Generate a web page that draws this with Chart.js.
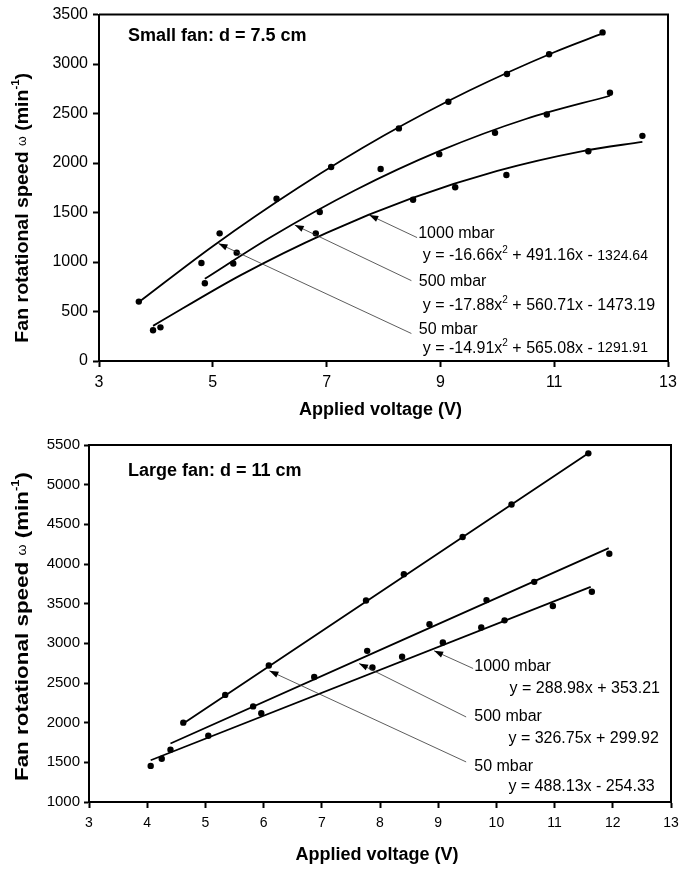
<!DOCTYPE html>
<html lang="en">
  <head>
    <meta charset="UTF-8" />
    <title>Fan rotational speed</title>
    <script src="https://cdn.jsdelivr.net/npm/chart.js"></script>
    <style>
      html, body { margin: 0; padding: 0; background: #fff; }
      .panel { position: absolute; left: 0; width: 698px; }
      #topPanel { top: 0; height: 430px; }
      #bottomPanel { top: 430px; height: 439px; }
    </style>
  </head>
  <body>
    <div class="panel" id="topPanel"><canvas id="smallFan"></canvas></div>
    <div class="panel" id="bottomPanel"><canvas id="largeFan"></canvas></div>
    <script>
      // ---- small fan (d = 7.5 cm) ----
      const smallXTicks = [3, 5, 7, 9, 11, 13];
      const smallYTicks = [0, 500, 1000, 1500, 2000, 2500, 3000, 3500];

      const smallV50 = [3.70, 4.80, 5.12, 6.12, 7.08, 8.27, 9.14, 10.17, 10.91, 11.85];
      const smallW50 = [600, 990, 1290, 1640, 1960, 2350, 2620, 2900, 3100, 3320];
      const smallV500 = [4.86, 5.36, 5.42, 6.88, 7.95, 8.98, 9.96, 10.87, 11.98];
      const smallW500 = [785, 985, 1095, 1505, 1940, 2090, 2305, 2490, 2710];
      const smallV1000 = [3.95, 4.08, 6.81, 8.52, 9.26, 10.16, 11.60, 12.55];
      const smallW1000 = [310, 340, 1290, 1630, 1755, 1880, 2120, 2275];

      // trend curves
      const smallFitV50 = [3.70, 5.0, 6.5, 8.0, 9.5, 11.0, 11.85];
      const smallFitW50 = [595, 1160, 1750, 2275, 2730, 3120, 3310];
      const smallFitV500 = [4.86, 6.0, 7.5, 9.0, 10.5, 11.98];
      const smallFitW500 = [830, 1245, 1725, 2125, 2445, 2680];
      const smallFitV1000 = [3.95, 5.5, 7.0, 8.5, 10.0, 11.5, 12.55];
      const smallFitW1000 = [355, 870, 1295, 1645, 1920, 2120, 2215];

      // ---- large fan (d = 11 cm) ----
      const largeXTicks = [3, 4, 5, 6, 7, 8, 9, 10, 11, 12, 13];
      const largeYTicks = [1000, 1500, 2000, 2500, 3000, 3500, 4000, 4500, 5000, 5500];

      const largeV50 = [4.62, 5.34, 6.09, 7.76, 8.41, 9.42, 10.26, 11.58];
      const largeW50 = [2000, 2350, 2720, 3540, 3870, 4340, 4750, 5395];
      const largeV500 = [4.40, 5.82, 6.87, 7.78, 8.85, 9.83, 10.65, 11.94];
      const largeW500 = [1660, 2205, 2575, 2905, 3240, 3545, 3775, 4130];
      const largeV1000 = [4.06, 4.25, 5.05, 5.96, 7.87, 8.38, 9.08, 9.74, 10.14, 10.97, 11.64];
      const largeW1000 = [1455, 1545, 1835, 2120, 2695, 2830, 3010, 3200, 3290, 3470, 3650];

      const largeFitV50 = [4.62, 11.58];
      const largeFitW50 = [1990, 5395];
      const largeFitV500 = [4.40, 11.93];
      const largeFitW500 = [1738, 4200];
      const largeFitV1000 = [4.06, 11.62];
      const largeFitW1000 = [1526, 3712];

      const FONT = "'Liberation Sans', Arial, sans-serif";

      function pts(xs, ys) {
        return xs.map((x, i) => ({ x: x, y: ys[i] }));
      }

      function dots(xs, ys) {
        return {
          data: pts(xs, ys),
          showLine: false,
          pointRadius: 3.2,
          pointBackgroundColor: "#000",
          pointBorderWidth: 0,
        };
      }

      function fit(xs, ys) {
        return {
          data: pts(xs, ys),
          showLine: true,
          borderColor: "#000",
          borderWidth: 1.8,
          pointRadius: 0,
          cubicInterpolationMode: "monotone",
        };
      }

      // draws a line of mixed text pieces: [text, kind]
      function pieceFont(kind, size) {
        if (kind === "sup") return Math.round(size * 0.62) + "px " + FONT;
        if (kind === "small") return (size - 2) + "px " + FONT;
        return size + "px " + FONT;
      }

      function drawPieces(ctx, pieces, x, y, size, align) {
        let total = 0;
        pieces.forEach((p) => {
          ctx.font = pieceFont(p[1], size);
          total += ctx.measureText(p[0]).width;
        });
        let cx = align === "right" ? x - total : x;
        ctx.textBaseline = "middle";
        ctx.textAlign = "left";
        pieces.forEach((p) => {
          ctx.font = pieceFont(p[1], size);
          const dy = p[1] === "sup" ? -size * 0.35 : 0;
          ctx.fillText(p[0], cx, y + dy);
          cx += ctx.measureText(p[0]).width;
        });
      }

      function arrow(ctx, x1, y1, x2, y2) {
        ctx.save();
        ctx.strokeStyle = "#333";
        ctx.fillStyle = "#000";
        ctx.lineWidth = 0.8;
        ctx.beginPath();
        ctx.moveTo(x1, y1);
        ctx.lineTo(x2, y2);
        ctx.stroke();
        const a = Math.atan2(y2 - y1, x2 - x1);
        const len = 9, w = 3.2;
        ctx.beginPath();
        ctx.moveTo(x2, y2);
        ctx.lineTo(x2 - len * Math.cos(a) + w * Math.sin(a), y2 - len * Math.sin(a) - w * Math.cos(a));
        ctx.lineTo(x2 - len * Math.cos(a) - w * Math.sin(a), y2 - len * Math.sin(a) + w * Math.cos(a));
        ctx.closePath();
        ctx.fill();
        ctx.restore();
      }

      const decor = {
        id: "decor",
        afterDatasetsDraw(chart, args, opts) {
          const ctx = chart.ctx;
          const xs = chart.scales.x, ys = chart.scales.y;
          const area = chart.chartArea;
          ctx.save();
          // box top and right
          ctx.strokeStyle = "#000";
          ctx.lineWidth = 2;
          ctx.beginPath();
          ctx.moveTo(area.left, area.top);
          ctx.lineTo(area.right, area.top);
          ctx.lineTo(area.right, area.bottom);
          ctx.stroke();

          opts.arrows.forEach((a) => {
            arrow(ctx, xs.getPixelForValue(a[0]), ys.getPixelForValue(a[1]),
              xs.getPixelForValue(a[2]), ys.getPixelForValue(a[3]));
          });

          ctx.fillStyle = "#000";
          opts.notes.forEach((n) => {
            drawPieces(ctx, n.pieces, xs.getPixelForValue(n.x), ys.getPixelForValue(n.y), 16, n.align);
          });

          // panel title
          ctx.font = "bold 18px " + FONT;
          ctx.textAlign = "left";
          ctx.textBaseline = "middle";
          ctx.fillText(opts.title[0], xs.getPixelForValue(opts.title[1]), ys.getPixelForValue(opts.title[2]));

          // x axis title
          ctx.font = "bold 18px " + FONT;
          ctx.textAlign = "center";
          ctx.fillText("Applied voltage (V)", (area.left + area.right) / 2 - 3, area.bottom + opts.xTitleGap);

          // y axis title with superscript
          ctx.translate(23, (area.top + area.bottom) / 2 + opts.yTitleShift);
          ctx.rotate(-Math.PI / 2);
          ctx.scale(opts.yTitleStretch, 1);
          const parts = [
            ["Fan rotational speed ", "bold 19px " + FONT, 0],
            ["\u03c9", "12px " + FONT, 0],
            [" (min", "bold 19px " + FONT, 0],
            ["-1", "bold 11px " + FONT, -7],
            [")", "bold 19px " + FONT, 0],
          ];
          let tw = 0;
          parts.forEach((p) => { ctx.font = p[1]; tw += ctx.measureText(p[0]).width; });
          let px = -tw / 2;
          ctx.textAlign = "left";
          parts.forEach((p) => {
            ctx.font = p[1];
            ctx.fillText(p[0], px, p[2]);
            px += ctx.measureText(p[0]).width;
          });
          ctx.restore();
        },
      };

      function axis(min, max, ticks, tickFont, tickLen, pad, isX, fitSize) {
        return {
          type: "linear",
          min: min,
          max: max,
          afterBuildTicks: (s) => { s.ticks = ticks.map((v) => ({ value: v })); },
          afterFit: (s) => { if (isX) s.height = fitSize; else s.width = fitSize; },
          grid: {
            drawOnChartArea: false,
            drawTicks: true,
            tickLength: tickLen,
            tickColor: "#000",
            tickWidth: 2,
          },
          border: { display: true, color: "#000", width: 2 },
          ticks: {
            color: "#000",
            font: { family: FONT, size: tickFont },
            padding: pad,
            maxRotation: 0,
            autoSkip: false,
            callback: (v) => String(v),
          },
        };
      }

      function baseOptions(padTop, padRight, xAxis, yAxis, decorOpts) {
        return {
          responsive: true,
          maintainAspectRatio: false,
          animation: false,
          layout: { padding: { top: padTop, right: padRight, left: 0, bottom: 0 } },
          plugins: { legend: { display: false }, tooltip: { enabled: false }, decor: decorOpts },
          scales: { x: xAxis, y: yAxis },
        };
      }

      new Chart(document.getElementById("smallFan"), {
        type: "scatter",
        data: {
          datasets: [
            dots(smallV50, smallW50), dots(smallV500, smallW500), dots(smallV1000, smallW1000),
            fit(smallFitV50, smallFitW50), fit(smallFitV500, smallFitW500), fit(smallFitV1000, smallFitW1000),
          ],
        },
        options: baseOptions(12, 30,
          axis(3, 13, smallXTicks, 16, 6, 6, true, 69),
          axis(0, 3500, smallYTicks, 16, 6, 5, false, 99),
          {
            title: ["Small fan: d = 7.5 cm", 3.51, 3280],
            xTitleGap: 49,
            yTitleShift: 20,
            yTitleStretch: 1.03,
            arrows: [[8.59, 1247, 7.75, 1475], [8.49, 812, 6.44, 1374], [8.49, 278, 5.10, 1187]],
            notes: [
              { x: 8.61, y: 1284, align: "left", pieces: [["1000 mbar", "n"]] },
              { x: 8.69, y: 1063, align: "left", pieces: [["y = -16.66x", "n"], ["2", "sup"], [" + 491.16x - ", "n"], ["1324.64", "small"]] },
              { x: 8.62, y: 802, align: "left", pieces: [["500 mbar", "n"]] },
              { x: 8.69, y: 562, align: "left", pieces: [["y = -17.88x", "n"], ["2", "sup"], [" + 560.71x - 1473.19", "n"]] },
              { x: 8.62, y: 321, align: "left", pieces: [["50 mbar", "n"]] },
              { x: 8.69, y: 125, align: "left", pieces: [["y = -14.91x", "n"], ["2", "sup"], [" + 565.08x - ", "n"], ["1291.91", "small"]] },
            ],
          }),
        plugins: [decor],
      });

      new Chart(document.getElementById("largeFan"), {
        type: "scatter",
        data: {
          datasets: [
            dots(largeV50, largeW50), dots(largeV500, largeW500), dots(largeV1000, largeW1000),
            fit(largeFitV50, largeFitW50), fit(largeFitV500, largeFitW500), fit(largeFitV1000, largeFitW1000),
          ],
        },
        options: baseOptions(15, 27,
          axis(3, 13, largeXTicks, 14, 6, 7, true, 67),
          axis(1000, 5500, largeYTicks, 15, 5, 4, false, 89),
          {
            title: ["Large fan: d = 11 cm", 3.67, 5172],
            xTitleGap: 53,
            yTitleShift: 3,
            yTitleStretch: 1.18,
            arrows: [[9.60, 2683, 8.93, 2905], [9.48, 2072, 7.64, 2746], [9.48, 1505, 6.10, 2653]],
            notes: [
              { x: 9.62, y: 2703, align: "left", pieces: [["1000 mbar", "n"]] },
              { x: 12.81, y: 2431, align: "right", pieces: [["y = 288.98x + 353.21", "n"]] },
              { x: 9.62, y: 2072, align: "left", pieces: [["500 mbar", "n"]] },
              { x: 12.79, y: 1800, align: "right", pieces: [["y = 326.75x + 299.92", "n"]] },
              { x: 9.62, y: 1450, align: "left", pieces: [["50 mbar", "n"]] },
              { x: 12.72, y: 1198, align: "right", pieces: [["y = 488.13x - 254.33", "n"]] },
            ],
          }),
        plugins: [decor],
      });
    </script>
  </body>
</html>
